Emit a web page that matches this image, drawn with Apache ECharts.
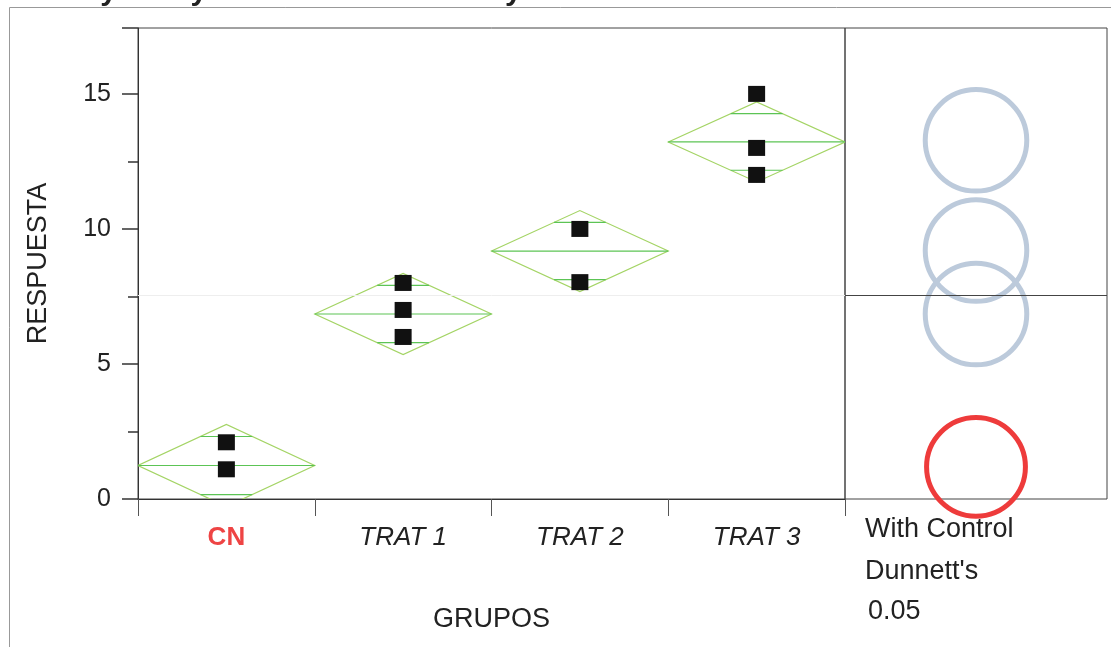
<!DOCTYPE html>
<html>
<head>
<meta charset="utf-8">
<script src="https://cdn.jsdelivr.net/npm/echarts@6/dist/echarts.min.js"></script>
<style>
html,body{margin:0;padding:0;background:#fff;}
#chart{width:1111px;height:647px;}
</style>
</head>
<body>
<div id="chart"></div>
<script>
// ---- data ----
const categories = ['CN', 'TRAT 1', 'TRAT 2', 'TRAT 3'];
const groupMeans = [1.24, 6.85, 9.18, 13.22];
const diamondHalf = [1.52, 1.50, 1.50, 1.48];
const obsCN = [2.1, 1.1];
const obsTrat1 = [8.0, 7.0, 6.0];
const obsTrat2 = [10.0, 8.03];
const obsTrat3 = [15.0, 13.0, 12.0];
const circleRadius = [1.83, 1.88, 1.88, 1.88];
const circleMeans = [1.19, 6.85, 9.2, 13.28];
const refLine = 7.53;
const yMin = 0, yMax = 17.44, yMajor = 5, yMinor = 2.5;
const panelText = ['With Control', "Dunnett's", '0.05'];
const titleText = 'Oneway Analysis of RESPUESTA By GRUPOS';

const FONT = "'Liberation Sans', Arial, sans-serif";
const diamondColor = '#a4d465';
const meanColor = '#5cc455';

const observations = [obsCN, obsTrat1, obsTrat2, obsTrat3];
const pointData = [];
observations.forEach((arr, i) => arr.forEach(v => pointData.push([i, v])));
const diamondData = groupMeans.map((m, i) => [i, m, diamondHalf[i]]);
const circleData = circleMeans.map((m, i) => [0.5, m, circleRadius[i], i === 0 ? 1 : 0]);

function renderDiamond(params, api) {
  const i = api.value(0), m = api.value(1), h = api.value(2);
  const c = api.coord([i, m]);
  const bw = api.size([1, 0])[0];
  const hp = api.size([0, h], [i, m])[1];
  const x0 = c[0] - bw / 2, x1 = c[0] + bw / 2;
  const ov = hp * Math.SQRT1_2;
  const ow = (bw / 2) * (1 - Math.SQRT1_2);
  const st = {stroke: diamondColor, lineWidth: 1.2, fill: null};
  const ms = {stroke: meanColor, lineWidth: 1.2};
  return {
    type: 'group',
    children: [
      {type: 'polygon', shape: {points: [[x0, c[1]], [c[0], c[1] - hp], [x1, c[1]], [c[0], c[1] + hp]]}, style: st},
      {type: 'line', shape: {x1: x0, y1: c[1], x2: x1, y2: c[1]}, style: ms},
      {type: 'line', shape: {x1: c[0] - ow, y1: c[1] - ov, x2: c[0] + ow, y2: c[1] - ov}, style: ms},
      {type: 'line', shape: {x1: c[0] - ow, y1: c[1] + ov, x2: c[0] + ow, y2: c[1] + ov}, style: ms}
    ]
  };
}

function renderCircle(params, api) {
  const x = api.value(0), m = api.value(1), r = api.value(2), ctrl = api.value(3);
  const c = api.coord([x, m]);
  const rp = api.size([0, r], [x, m])[1];
  return {
    type: 'circle',
    shape: {cx: c[0], cy: c[1], r: rp},
    style: {fill: null, stroke: ctrl ? '#ee3b3b' : '#bccadb', lineWidth: 5}
  };
}

const chart = echarts.init(document.getElementById('chart'));
chart.setOption({
  backgroundColor: '#fff',
  animation: false,
  grid: [
    {left: 138, top: 28, width: 707, bottom: 148, show: true, borderColor: '#444', borderWidth: 1, backgroundColor: 'transparent'},
    {left: 845, top: 28, width: 262, bottom: 148, show: true, borderColor: '#444', borderWidth: 1, backgroundColor: 'transparent'}
  ],
  xAxis: [
    {
      type: 'category', gridIndex: 0, data: categories, boundaryGap: true,
      axisLine: {lineStyle: {color: '#333'}},
      axisTick: {show: true, length: 17, lineStyle: {color: '#555'}},
      axisLabel: {
        margin: 26,
        formatter: (v, i) => (i === 0 ? '{cn|' + v + '}' : '{it|' + v + '}'),
        rich: {
          cn: {color: '#ee4444', fontWeight: 'bold', fontSize: 26, fontFamily: FONT},
          it: {color: '#222', fontStyle: 'italic', fontSize: 26, fontFamily: FONT}
        }
      },
      name: 'GRUPOS', nameLocation: 'middle', nameGap: 107,
      nameTextStyle: {fontSize: 27, color: '#222', fontFamily: FONT}
    },
    {type: 'value', gridIndex: 1, min: 0, max: 1, show: false}
  ],
  yAxis: [
    {
      type: 'value', gridIndex: 0, position: 'left', min: yMin, max: yMax, interval: yMajor,
      splitLine: {show: false},
      axisLine: {show: true, lineStyle: {color: '#333'}},
      axisTick: {show: true, length: 16, lineStyle: {color: '#333', width: 1.5}},
      axisLabel: {
        margin: 27, fontSize: 25, color: '#222', fontFamily: FONT,
        formatter: v => (v % yMajor === 0 && v <= 15 ? String(v) : '')
      },
      name: 'RESPUESTA', nameLocation: 'middle', nameGap: 86, nameRotate: 90,
      nameTextStyle: {fontSize: 27, color: '#222', fontFamily: FONT}
    },
    {
      type: 'value', gridIndex: 0, position: 'left', offset: 0, min: yMin, max: yMax, interval: yMinor,
      splitLine: {show: false},
      axisLine: {show: false},
      axisTick: {show: true, length: 10, lineStyle: {color: '#333', width: 1.5}},
      axisLabel: {show: false}
    },
    {type: 'value', gridIndex: 1, min: yMin, max: yMax, show: false}
  ],
  series: [
    {
      type: 'custom', xAxisIndex: 0, yAxisIndex: 0, clip: true,
      renderItem: renderDiamond, data: diamondData, z: 2,
      markLine: {
        silent: true, symbol: 'none', label: {show: false},
        lineStyle: {color: '#eeeeee', width: 1, type: 'solid'},
        data: [{yAxis: refLine}]
      }
    },
    {
      type: 'scatter', xAxisIndex: 0, yAxisIndex: 0,
      symbol: 'rect', symbolSize: [17, 16],
      itemStyle: {color: '#111', opacity: 1}, data: pointData, z: 3
    },
    {
      type: 'custom', xAxisIndex: 1, yAxisIndex: 2, clip: false,
      renderItem: renderCircle, data: circleData, z: 3,
      markLine: {
        silent: true, symbol: 'none', label: {show: false},
        lineStyle: {color: '#444', width: 1, type: 'solid'},
        data: [{yAxis: refLine}]
      }
    }
  ],
  graphic: [
    {type: 'rect', left: 7, top: 5, shape: {x: 0, y: 0, width: 1200, height: 700}, style: {fill: null, stroke: '#999', lineWidth: 1}, silent: true},
    {type: 'text', x: 2, y: 7, style: {text: titleText, font: "bold 30px 'Liberation Sans', Arial, sans-serif", fill: '#222', textVerticalAlign: 'bottom'}},
    {type: 'text', x: 865, y: 530, style: {text: panelText[0], font: "27px 'Liberation Sans', Arial, sans-serif", fill: '#222', textVerticalAlign: 'middle'}},
    {type: 'text', x: 865, y: 572, style: {text: panelText[1], font: "27px 'Liberation Sans', Arial, sans-serif", fill: '#222', textVerticalAlign: 'middle'}},
    {type: 'text', x: 868, y: 612, style: {text: panelText[2], font: "27px 'Liberation Sans', Arial, sans-serif", fill: '#222', textVerticalAlign: 'middle'}}
  ]
});
</script>
</body>
</html>
